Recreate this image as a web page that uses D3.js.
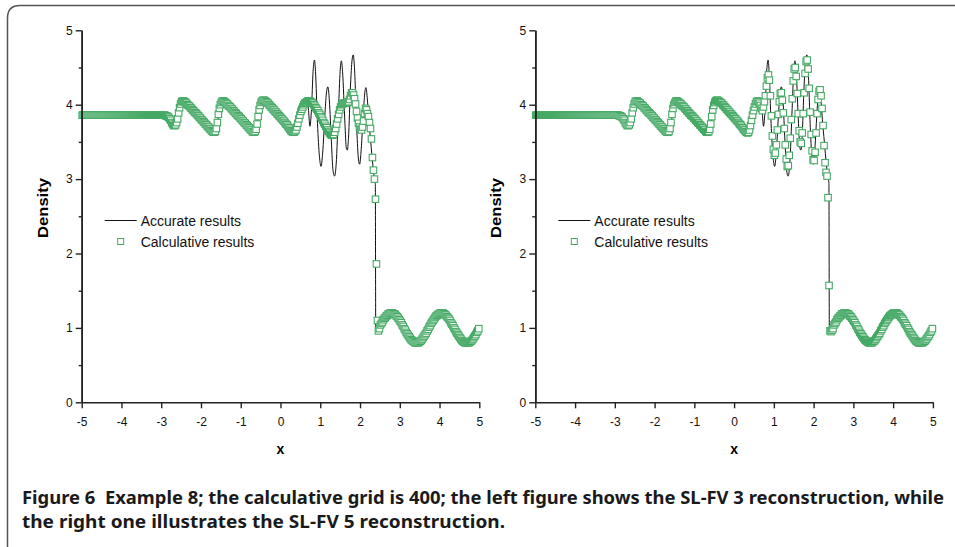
<!DOCTYPE html>
<html>
<head>
<meta charset="utf-8">
<script src="https://cdn.jsdelivr.net/npm/d3@7"></script>
<style>
  body { margin: 0; background: #fff; }
  svg { display: block; }
</style>
</head>
<body>
<div class="canvas"></div>
<script>
// calculative grid of 400 cells on [-5, 5] (cell centres)
const gridX = d3.range(400).map(i => -4.9875 + 0.025 * i);

// SL-FV 3 result (left figure), one value per grid cell
const leftDensity = [
  3.86,3.86,3.86,3.86,3.86,3.86,3.86,3.86,3.86,3.86,
  3.86,3.86,3.86,3.86,3.86,3.86,3.86,3.86,3.86,3.86,
  3.86,3.86,3.86,3.86,3.86,3.86,3.86,3.86,3.86,3.86,
  3.86,3.86,3.86,3.86,3.86,3.86,3.86,3.86,3.86,3.86,
  3.86,3.86,3.86,3.86,3.86,3.86,3.86,3.86,3.86,3.86,
  3.86,3.86,3.86,3.86,3.86,3.86,3.86,3.86,3.86,3.86,
  3.86,3.86,3.86,3.86,3.86,3.86,3.86,3.86,3.86,3.86,
  3.86,3.86,3.86,3.86,3.86,3.86,3.86,3.86,3.86,3.86,
  3.86,3.86,3.86,3.86,3.85,3.85,3.84,3.83,3.81,3.79,
  3.76,3.74,3.72,3.72,3.73,3.76,3.81,3.89,3.96,4.01,
  4.04,4.05,4.05,4.04,4.03,4.02,4.00,3.99,3.98,3.96,
  3.95,3.93,3.92,3.90,3.89,3.88,3.86,3.85,3.83,3.82,
  3.80,3.79,3.77,3.76,3.74,3.73,3.71,3.70,3.68,3.67,
  3.65,3.64,3.63,3.63,3.64,3.68,3.76,3.87,3.95,4.00,
  4.03,4.05,4.05,4.04,4.03,4.02,4.01,3.99,3.98,3.97,
  3.95,3.94,3.92,3.91,3.89,3.88,3.86,3.85,3.84,3.82,
  3.81,3.79,3.78,3.76,3.75,3.73,3.72,3.70,3.69,3.67,
  3.66,3.64,3.63,3.63,3.64,3.67,3.74,3.84,3.93,3.99,
  4.03,4.05,4.06,4.06,4.05,4.04,4.03,4.02,4.00,3.99,
  3.97,3.96,3.94,3.93,3.91,3.90,3.88,3.87,3.85,3.84,
  3.82,3.81,3.79,3.78,3.76,3.74,3.73,3.71,3.69,3.67,
  3.65,3.64,3.63,3.63,3.64,3.66,3.70,3.75,3.81,3.86,
  3.91,3.94,3.97,4.00,4.02,4.03,4.04,4.05,4.05,4.05,
  4.04,4.03,4.02,4.00,3.98,3.96,3.94,3.92,3.89,3.87,
  3.84,3.82,3.79,3.76,3.74,3.71,3.69,3.66,3.64,3.62,
  3.60,3.59,3.59,3.60,3.63,3.68,3.74,3.81,3.87,3.93,
  3.97,4.00,4.01,4.02,4.02,4.02,4.02,4.03,4.04,4.07,
  4.12,4.16,4.16,4.13,4.08,4.01,3.91,3.82,3.75,3.70,
  3.67,3.66,3.70,3.78,3.88,3.95,3.93,3.88,3.84,3.76,
  3.68,3.54,3.29,3.12,3.00,2.73,1.86,1.10,0.96,0.99,
  1.04,1.06,1.08,1.11,1.13,1.14,1.16,1.17,1.19,1.19,
  1.20,1.20,1.20,1.19,1.19,1.18,1.16,1.15,1.13,1.11,
  1.09,1.07,1.04,1.02,0.99,0.97,0.94,0.92,0.90,0.88,
  0.86,0.84,0.83,0.82,0.81,0.80,0.80,0.80,0.80,0.81,
  0.82,0.83,0.85,0.87,0.89,0.91,0.93,0.96,0.98,1.01,
  1.03,1.06,1.08,1.10,1.12,1.14,1.16,1.17,1.18,1.19,
  1.20,1.20,1.20,1.20,1.19,1.18,1.17,1.15,1.14,1.12,
  1.10,1.07,1.05,1.03,1.00,0.98,0.95,0.93,0.91,0.89,
  0.87,0.85,0.83,0.82,0.81,0.80,0.80,0.80,0.80,0.80,
  0.81,0.82,0.83,0.85,0.87,0.89,0.91,0.94,0.96,0.99
];

// SL-FV 5 result (right figure)
const rightDensity = [
  3.86,3.86,3.86,3.86,3.86,3.86,3.86,3.86,3.86,3.86,
  3.86,3.86,3.86,3.86,3.86,3.86,3.86,3.86,3.86,3.86,
  3.86,3.86,3.86,3.86,3.86,3.86,3.86,3.86,3.86,3.86,
  3.86,3.86,3.86,3.86,3.86,3.86,3.86,3.86,3.86,3.86,
  3.86,3.86,3.86,3.86,3.86,3.86,3.86,3.86,3.86,3.86,
  3.86,3.86,3.86,3.86,3.86,3.86,3.86,3.86,3.86,3.86,
  3.86,3.86,3.86,3.86,3.86,3.86,3.86,3.86,3.86,3.86,
  3.86,3.86,3.86,3.86,3.86,3.86,3.86,3.86,3.86,3.86,
  3.86,3.86,3.86,3.86,3.85,3.85,3.84,3.83,3.81,3.79,
  3.76,3.74,3.72,3.72,3.73,3.76,3.81,3.89,3.96,4.01,
  4.04,4.05,4.05,4.04,4.03,4.02,4.00,3.99,3.98,3.96,
  3.95,3.93,3.92,3.90,3.89,3.88,3.86,3.85,3.83,3.82,
  3.80,3.79,3.77,3.76,3.74,3.73,3.71,3.70,3.68,3.67,
  3.65,3.64,3.63,3.63,3.64,3.68,3.76,3.87,3.95,4.00,
  4.03,4.05,4.05,4.04,4.03,4.02,4.01,3.99,3.98,3.97,
  3.95,3.94,3.92,3.91,3.89,3.88,3.86,3.85,3.84,3.82,
  3.81,3.79,3.78,3.76,3.75,3.73,3.72,3.70,3.69,3.67,
  3.66,3.64,3.63,3.63,3.64,3.67,3.74,3.84,3.93,3.99,
  4.03,4.05,4.06,4.06,4.05,4.04,4.03,4.02,4.00,3.99,
  3.97,3.96,3.94,3.93,3.91,3.90,3.88,3.87,3.85,3.84,
  3.82,3.81,3.79,3.78,3.76,3.74,3.73,3.71,3.69,3.67,
  3.66,3.64,3.63,3.62,3.63,3.66,3.72,3.79,3.86,3.92,
  3.97,4.01,4.04,4.05,4.04,4.02,3.99,3.95,3.92,3.97,
  4.04,4.12,4.25,4.36,4.40,4.33,4.12,3.85,3.58,3.40,
  3.32,3.35,3.46,3.66,3.87,4.04,4.15,4.16,4.06,3.89,
  3.68,3.46,3.27,3.17,3.18,3.32,3.55,3.80,4.08,4.32,
  4.48,4.50,4.38,4.15,3.88,3.65,3.50,3.48,3.62,3.88,
  4.16,4.42,4.58,4.60,4.48,4.22,3.90,3.60,3.38,3.26,
  3.25,3.36,3.62,3.88,4.07,4.18,4.20,4.12,3.95,3.72,
  3.45,3.22,3.09,3.04,2.75,1.57,0.96,0.95,0.97,0.99,
  1.04,1.06,1.08,1.11,1.13,1.14,1.16,1.17,1.19,1.19,
  1.20,1.20,1.20,1.19,1.19,1.18,1.16,1.15,1.13,1.11,
  1.09,1.07,1.04,1.02,0.99,0.97,0.94,0.92,0.90,0.88,
  0.86,0.84,0.83,0.82,0.81,0.80,0.80,0.80,0.80,0.81,
  0.82,0.83,0.85,0.87,0.89,0.91,0.93,0.96,0.98,1.01,
  1.03,1.06,1.08,1.10,1.12,1.14,1.16,1.17,1.18,1.19,
  1.20,1.20,1.20,1.20,1.19,1.18,1.17,1.15,1.14,1.12,
  1.10,1.07,1.05,1.03,1.00,0.98,0.95,0.93,0.91,0.89,
  0.87,0.85,0.83,0.82,0.81,0.80,0.80,0.80,0.80,0.80,
  0.81,0.82,0.83,0.85,0.87,0.89,0.91,0.94,0.96,0.99
];

// accurate (reference) solution, same in both figures
const refX = [
  -5, -2.9, -2.8, -2.7, -2.63, -2.6, -2.59, -2.57, -2.5, -2.45,
  -2.3, -2.0, -1.75, -1.66, -1.6, -1.575, -1.56, -1.54, -1.48, -1.4,
  -1.2, -1.0, -0.75, -0.66, -0.6, -0.575, -0.56, -0.54, -0.46, -0.4,
  -0.2, 0.0, 0.2, 0.3, 0.35, 0.4, 0.45, 0.5, 0.55, 0.6,
  0.65, 0.7, 0.74, 0.78, 0.82, 0.855, 0.88, 0.93, 0.98, 1.02,
  1.06, 1.12, 1.16, 1.19, 1.23, 1.28, 1.32, 1.36, 1.40, 1.46,
  1.50, 1.53, 1.56, 1.62, 1.655, 1.68, 1.71, 1.76, 1.80, 1.83,
  1.86, 1.92, 1.96, 1.99, 2.03, 2.09, 2.13, 2.15, 2.18, 2.22,
  2.27, 2.32, 2.36, 2.385, 2.395, 2.40, 2.45, 2.5,
  2.6, 2.7, 2.8, 2.9, 3.0, 3.1, 3.2, 3.3, 3.4, 3.5,
  3.6, 3.7, 3.8, 3.9, 4.0, 4.1, 4.2, 4.3, 4.4, 4.5,
  4.6, 4.7, 4.8, 4.9, 5.0
];
const refY = [
  3.857, 3.857, 3.83, 3.76, 3.72, 3.72, 3.92, 4.02, 4.06, 4.05,
  3.98, 3.81, 3.67, 3.62, 3.62, 3.63, 3.93, 4.03, 4.06, 4.05,
  3.94, 3.81, 3.67, 3.62, 3.62, 3.63, 3.94, 4.04, 4.07, 4.07,
  3.95, 3.83, 3.71, 3.65, 3.62, 3.63, 3.70, 3.84, 3.96, 4.03,
  4.05, 3.95, 3.71, 3.95, 4.45, 4.60, 4.45, 3.75, 3.30, 3.17,
  3.35, 3.90, 4.18, 4.24, 4.05, 3.50, 3.12, 3.04, 3.20, 3.95,
  4.45, 4.59, 4.45, 3.75, 3.42, 3.39, 3.55, 4.25, 4.60, 4.67,
  4.50, 3.65, 3.27, 3.20, 3.40, 3.95, 4.20, 4.23, 4.10, 3.80,
  3.50, 3.20, 3.02, 2.95, 1.00, 0.93, 0.97, 1.02,
  1.12, 1.18, 1.20, 1.17, 1.10, 1.00, 0.91, 0.83, 0.80, 0.82,
  0.88, 0.97, 1.07, 1.15, 1.20, 1.19, 1.14, 1.06, 0.96, 0.87,
  0.81, 0.80, 0.84, 0.92, 1.01
];

const xTicks = [-5, -4, -3, -2, -1, 0, 1, 2, 3, 4, 5];
const yTicks = [0, 1, 2, 3, 4, 5];
const yMinorTicks = [0.5, 1.5, 2.5, 3.5, 4.5];
const legendLabels = ['Accurate results', 'Calculative results'];
const captionLines = [
  'Figure 6\u00a0 Example 8; the calculative grid is 400; the left figure shows the SL-FV 3 reconstruction, while',
  'the right one illustrates the SL-FV 5 reconstruction.'
];

const green = '#45a965';
const W = 955, H = 547;
const axisFont = 'Liberation Sans, Arial, sans-serif';

const svg = d3.select('.canvas')
  .append('svg')
    .attr('width', W)
    .attr('height', H);

// frame with rounded top-left corner
svg.append('path')
  .attr('d', 'M7.5,547 L7.5,18 Q7.5,5.5 20,5.5 L955,5.5')
  .attr('fill', 'none')
  .attr('stroke', '#555')
  .attr('stroke-width', 1.5);

function drawPanel(left, values) {
  const x = d3.scaleLinear().domain([-5, 5]).range([left, left + 397.6]);
  const y = d3.scaleLinear().domain([0, 5]).range([402.3, 30.3]);
  const g = svg.append('g');

  // reference line
  const line = d3.line()
    .x((d, i) => x(refX[i]))
    .y((d, i) => y(refY[i]))
    .curve(d3.curveMonotoneX);
  g.append('path')
    .datum(refY)
    .attr('d', line)
    .attr('fill', 'none')
    .attr('stroke', '#111')
    .attr('stroke-width', 1);

  // calculated values, square markers
  g.selectAll('rect.pt')
    .data(values)
    .enter()
    .append('rect')
      .attr('class', 'pt')
      .attr('x', (d, i) => x(gridX[i]) - 3.25)
      .attr('y', d => y(d) - 3.25)
      .attr('width', 6.5)
      .attr('height', 6.5)
      .attr('fill', '#fff')
      .attr('stroke', green)
      .attr('stroke-width', 1.1);

  // axes
  const xAxis = d3.axisBottom(x).tickValues(xTicks).tickSize(6).tickSizeOuter(0)
    .tickFormat(d => String(d));
  const yAxis = d3.axisLeft(y).tickValues(yTicks).tickSize(6).tickSizeOuter(0)
    .tickFormat(d => String(d));
  const yMinor = d3.axisLeft(y).tickValues(yMinorTicks).tickSize(3).tickSizeOuter(0)
    .tickFormat('');

  const xg = g.append('g').attr('transform', `translate(0, ${y(0)})`).call(xAxis);
  const yg = g.append('g').attr('transform', `translate(${x(-5)}, 0)`).call(yAxis);
  const ym = g.append('g').attr('transform', `translate(${x(-5)}, 0)`).call(yMinor);
  [xg, yg, ym].forEach(a => {
    a.select('.domain').attr('stroke', '#222').attr('stroke-width', 1.6);
    a.selectAll('.tick line').attr('stroke', '#222').attr('stroke-width', 1.4);
    a.selectAll('text')
      .attr('font-family', axisFont)
      .attr('font-size', 12)
      .attr('fill', '#111');
  });
  xg.selectAll('.tick text').attr('dy', '1.2em');
  yg.selectAll('.tick text').attr('x', -9);

  // axis titles
  g.append('text')
    .attr('x', x(0))
    .attr('y', 454)
    .attr('text-anchor', 'middle')
    .attr('font-family', axisFont)
    .attr('font-weight', 'bold')
    .attr('font-size', 14)
    .text('x');
  g.append('text')
    .attr('transform', `translate(${left - 34}, 208) rotate(-90)`)
    .attr('text-anchor', 'middle')
    .attr('font-family', axisFont)
    .attr('font-weight', 'bold')
    .attr('font-size', 15)
    .attr('textLength', 60)
    .attr('lengthAdjust', 'spacingAndGlyphs')
    .text('Density');

  // legend
  const lg = g.append('g').attr('transform', `translate(${left + 23}, 0)`);
  lg.append('line')
    .attr('x1', 0).attr('x2', 32)
    .attr('y1', 220.5).attr('y2', 220.5)
    .attr('stroke', '#111').attr('stroke-width', 1);
  lg.append('rect')
    .attr('x', 13).attr('y', 238.5)
    .attr('width', 6).attr('height', 6)
    .attr('fill', '#fff').attr('stroke', green).attr('stroke-width', 1);
  lg.selectAll('text.lab')
    .data(legendLabels)
    .enter()
    .append('text')
      .attr('class', 'lab')
      .attr('x', 36)
      .attr('y', (d, i) => 225.5 + i * 21.5)
      .attr('font-family', axisFont)
      .attr('font-size', 14)
      .attr('fill', '#111')
      .text(d => d);
}

drawPanel(81.7, leftDensity);
drawPanel(535.3, rightDensity);

// caption
svg.selectAll('text.caption')
  .data(captionLines)
  .enter()
  .append('text')
    .attr('class', 'caption')
    .attr('x', 22)
    .attr('y', (d, i) => 504 + i * 24)
    .attr('font-family', 'Noto Sans, Open Sans, sans-serif')
    .attr('font-weight', 'bold')
    .attr('font-size', 18)
    .attr('fill', '#1a1a1a')
    .attr('textLength', (d, i) => i === 0 ? 922 : 483)
    .attr('lengthAdjust', 'spacingAndGlyphs')
    .text(d => d);
</script>
</body>
</html>
